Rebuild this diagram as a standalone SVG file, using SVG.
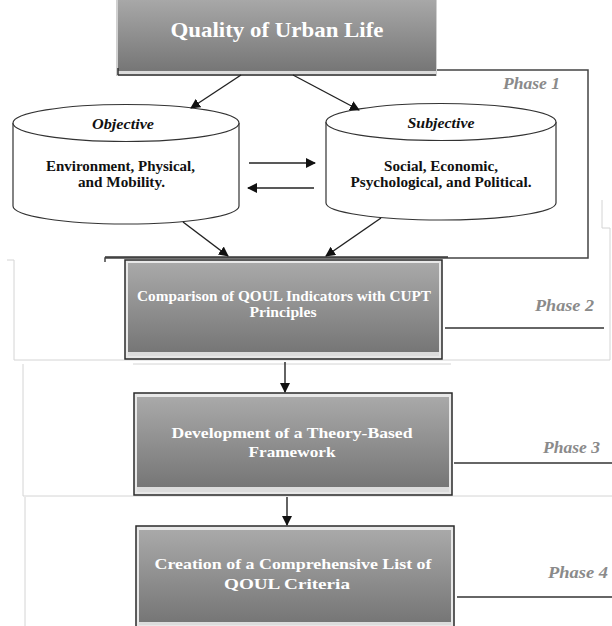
<svg xmlns="http://www.w3.org/2000/svg" width="612" height="626" viewBox="0 0 612 626">
  <defs>
    <linearGradient id="boxFill" x1="0" y1="0" x2="0" y2="1">
      <stop offset="0" stop-color="#a9a9a9"/>
      <stop offset="1" stop-color="#767676"/>
    </linearGradient>
    <filter id="soft" x="-5%" y="-10%" width="110%" height="120%">
      <feGaussianBlur stdDeviation="0.4"/>
    </filter>
    <marker id="arrow" viewBox="0 0 10 10" refX="9" refY="5" markerWidth="10" markerHeight="10" markerUnits="userSpaceOnUse" orient="auto">
      <path d="M0,0 L10,5 L0,10 z" fill="#111"/>
    </marker>
    <style>
      .frame { fill: none; stroke: #444; stroke-width: 1.5; }
      .faint { fill: none; stroke: #d4d4d4; stroke-width: 1; }
      .conn { fill: none; stroke: #222; stroke-width: 1.4; marker-end: url(#arrow); }
      .outer { fill: #e8e8e8; stroke: #2a2a2a; stroke-width: 1.5; }
      .inner { fill: url(#boxFill); }
      .strip { fill: #dcdcdc; }
      .boxText { font-family: "Liberation Serif", "Times New Roman", serif; font-weight: bold; fill: #ffffff; text-anchor: middle; }
      .phase { font-family: "Liberation Serif", "Times New Roman", serif; font-weight: bold; font-style: italic; font-size: 17px; fill: #8a8a8a; }
      .cyl { fill: #ffffff; stroke: #333; stroke-width: 1.2; }
      .cylHead { font-family: "Liberation Serif", "Times New Roman", serif; font-weight: bold; font-style: italic; font-size: 14px; fill: #111; text-anchor: middle; }
      .cylBody { font-family: "Liberation Serif", "Times New Roman", serif; font-weight: bold; font-size: 14px; fill: #111; text-anchor: middle; }
    </style>
  </defs>

  <rect width="612" height="626" fill="#ffffff"/>

  <!-- light panel edges -->
  <path class="faint" d="M602,200 V228 H610 V360 H14 V260 H7"/>
  <path class="faint" d="M23,364 V496 H612"/>
  <path class="faint" d="M25,497 V626"/>
  <path class="faint" d="M133,364 H451" stroke="#e6e6e6"/>

  <!-- phase frames and rules -->
  <path class="frame" d="M436,70 H588 V258 H105 V262"/>
  <line x1="445" y1="328" x2="604" y2="328" stroke="#333" stroke-width="1.5"/>
  <line x1="454" y1="463" x2="612" y2="463" stroke="#333" stroke-width="1.5"/>
  <line x1="457" y1="597" x2="612" y2="597" stroke="#333" stroke-width="1.5"/>

  <text class="phase" x="503" y="89" textLength="57" lengthAdjust="spacingAndGlyphs">Phase 1</text>
  <text class="phase" x="535" y="311" textLength="59" lengthAdjust="spacingAndGlyphs">Phase 2</text>
  <text class="phase" x="543" y="453" textLength="57" lengthAdjust="spacingAndGlyphs">Phase 3</text>
  <text class="phase" x="548" y="578" textLength="60" lengthAdjust="spacingAndGlyphs">Phase 4</text>

  <!-- Quality of Urban Life -->
  <g id="quality">
    <rect x="116" y="-2" width="321" height="78" fill="#d0d0d0" filter="url(#soft)"/>
    <rect class="inner" x="118" y="-2" width="318" height="73"/>
    <rect class="strip" x="118" y="71" width="318" height="3"/>
    <line x1="118" y1="75" x2="436" y2="75" stroke="#333" stroke-width="1.5"/>
    <line x1="118" y1="68" x2="118" y2="75" stroke="#333" stroke-width="1.5"/>
    <text class="boxText" x="277" y="37" font-size="21" textLength="213" lengthAdjust="spacingAndGlyphs">Quality of Urban Life</text>
  </g>

  <!-- Objective cylinder -->
  <g id="objective">
    <path class="cyl" d="M13,123 V206 A113,18 0 0 0 239,206 V123"/>
    <ellipse class="cyl" cx="126" cy="123" rx="113" ry="18.5"/>
    <text class="cylHead" x="123" y="129" textLength="62" lengthAdjust="spacingAndGlyphs">Objective</text>
    <text class="cylBody" x="120.5" y="171" textLength="149" lengthAdjust="spacingAndGlyphs">Environment, Physical,</text>
    <text class="cylBody" x="121.5" y="187" textLength="87" lengthAdjust="spacingAndGlyphs">and Mobility.</text>
  </g>

  <!-- Subjective cylinder -->
  <g id="subjective">
    <path class="cyl" d="M326,122 V203 A115,17 0 0 0 556,203 V122"/>
    <ellipse class="cyl" cx="441" cy="122" rx="115" ry="18.5"/>
    <text class="cylHead" x="441" y="128" textLength="67" lengthAdjust="spacingAndGlyphs">Subjective</text>
    <text class="cylBody" x="441" y="171" textLength="114" lengthAdjust="spacingAndGlyphs">Social, Economic,</text>
    <text class="cylBody" x="441" y="187" textLength="181" lengthAdjust="spacingAndGlyphs">Psychological, and Political.</text>
  </g>

  <!-- Phase 2 box -->
  <g id="comparison">
    <rect class="outer" x="125" y="260" width="317" height="99"/>
    <rect class="inner" x="128" y="263" width="311" height="89"/>
    <rect class="strip" x="128" y="352" width="311" height="4"/>
    <line x1="105" y1="257" x2="448" y2="257" stroke="#333" stroke-width="1.5"/>
    <text class="boxText" x="284" y="301" font-size="14" textLength="294" lengthAdjust="spacingAndGlyphs">Comparison of QOUL Indicators with CUPT</text>
    <text class="boxText" x="283" y="317" font-size="14" textLength="67" lengthAdjust="spacingAndGlyphs">Principles</text>
  </g>

  <!-- Phase 3 box -->
  <g id="framework">
    <rect class="outer" x="134" y="393" width="318" height="102"/>
    <rect class="inner" x="137" y="397" width="312" height="90"/>
    <rect class="strip" x="137" y="487" width="312" height="5"/>
    <text class="boxText" x="292" y="438" font-size="15" textLength="241" lengthAdjust="spacingAndGlyphs">Development of a Theory-Based</text>
    <text class="boxText" x="292" y="457" font-size="15" textLength="87" lengthAdjust="spacingAndGlyphs">Framework</text>
  </g>

  <!-- Phase 4 box -->
  <g id="criteria">
    <rect class="outer" x="136" y="526" width="318" height="104"/>
    <rect class="inner" x="139" y="530" width="312" height="92"/>
    <rect class="strip" x="139" y="622" width="312" height="3"/>
    <text class="boxText" x="293" y="569" font-size="15" textLength="277" lengthAdjust="spacingAndGlyphs">Creation of a Comprehensive  List of</text>
    <text class="boxText" x="287" y="589" font-size="15" textLength="126" lengthAdjust="spacingAndGlyphs">QOUL Criteria</text>
  </g>

  <!-- connectors -->
  <g id="connectors">
    <line class="conn" x1="241" y1="75" x2="191" y2="108"/>
    <line class="conn" x1="293" y1="75" x2="359" y2="110"/>
    <line class="conn" x1="249" y1="163" x2="315" y2="163"/>
    <line class="conn" x1="314" y1="188" x2="248" y2="188"/>
    <line class="conn" x1="183" y1="222" x2="228" y2="256"/>
    <line class="conn" x1="381" y1="218" x2="326" y2="256"/>
    <line class="conn" x1="285" y1="362" x2="285" y2="392"/>
    <line class="conn" x1="287" y1="497" x2="287" y2="525"/>
  </g>
</svg>
